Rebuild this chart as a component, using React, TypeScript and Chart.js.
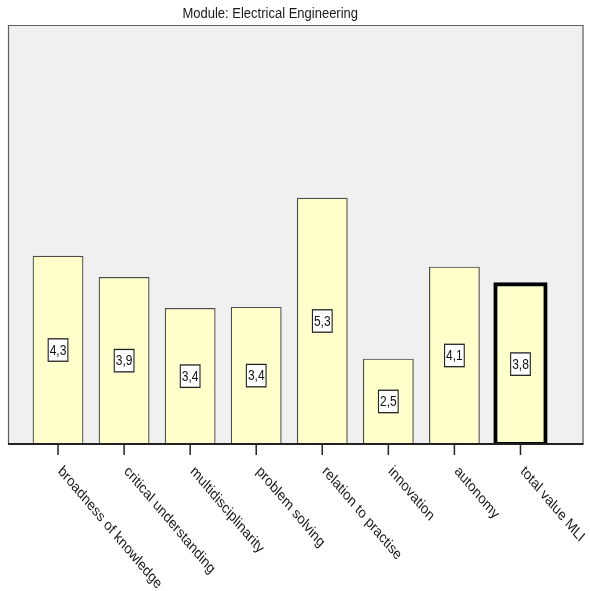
import { useEffect, useRef } from "react";
import { Chart, registerables } from "chart.js";

Chart.register(...registerables);

const TITLE = "Module: Electrical Engineering";
const categories = [
  "broadness of knowledge",
  "critical understanding",
  "multidisciplinarity",
  "problem solving",
  "relation to practise",
  "innovation",
  "autonomy",
  "total value MLI",
];
const values = [4.27, 3.9, 3.36, 3.38, 5.28, 2.48, 4.08, 3.78];
const borderWidths = [1.2, 1.2, 1.2, 1.2, 1.2, 1.2, 1.2, 4];
const inflate = [0.3, 0.3, 0.3, 0.3, 0.3, 0.3, 0.3, 2];
const borderColors = ["#4a4a4a", "#4a4a4a", "#4a4a4a", "#4a4a4a", "#4a4a4a", "#4a4a4a", "#4a4a4a", "#000000"];

const SY = 1.18; // vertical stretch of the original picture's text
const FONT = "Arial, 'Liberation Sans', sans-serif";

function fmt(v: number) {
  return v.toFixed(1).replace(".", ",");
}

const decor = {
  id: "decor",
  beforeDraw(chart: any) {
    const { ctx, chartArea: ca } = chart;
    const L = ca.left - 17;
    const R = ca.right + 30;
    ctx.save();
    ctx.fillStyle = "#f0f0f0";
    ctx.fillRect(L, ca.top, R - L, ca.bottom - ca.top);
    ctx.strokeStyle = "#5e5e5e";
    ctx.lineWidth = 1.2;
    ctx.beginPath();
    ctx.moveTo(L + 0.5, ca.bottom);
    ctx.lineTo(L + 0.5, ca.top + 0.5);
    ctx.lineTo(R - 0.5, ca.top + 0.5);
    ctx.lineTo(R - 0.5, ca.bottom);
    ctx.stroke();
    ctx.restore();
  },
  afterDatasetsDraw(chart: any) {
    const { ctx, chartArea: ca } = chart;
    const L = ca.left - 17;
    const R = ca.right + 30;
    const xs = chart.scales.x;
    const base = chart.scales.y.getPixelForValue(chart.scales.y.min);
    ctx.save();
    // baseline
    ctx.strokeStyle = "#222";
    ctx.lineWidth = 2;
    ctx.beginPath();
    ctx.moveTo(L, ca.bottom);
    ctx.lineTo(R, ca.bottom);
    ctx.stroke();
    // ticks + labels
    ctx.lineWidth = 1.5;
    ctx.fillStyle = "#1a1a1a";
    ctx.font = `13px ${FONT}`;
    categories.forEach((c, i) => {
      const x = xs.getPixelForValue(i);
      ctx.beginPath();
      ctx.moveTo(x, ca.bottom);
      ctx.lineTo(x, ca.bottom + 11);
      ctx.stroke();
      ctx.save();
      ctx.translate(x + 2, ca.bottom + 25);
      ctx.scale(1, SY);
      ctx.rotate(Math.PI / 4);
      ctx.textAlign = "left";
      ctx.textBaseline = "middle";
      ctx.fillText(c, 0, 0);
      ctx.restore();
    });
    // value boxes
    const meta = chart.getDatasetMeta(0);
    ctx.font = `12px ${FONT}`;
    meta.data.forEach((bar: any, i: number) => {
      const cx = bar.x;
      const cy = (bar.y + base) / 2;
      const t = fmt(values[i]);
      const w = ctx.measureText(t).width + 3;
      const h = 19;
      ctx.save();
      ctx.translate(cx, cy);
      ctx.scale(1, SY);
      ctx.fillStyle = "#ffffff";
      ctx.fillRect(-w / 2, -h / 2, w, h);
      ctx.strokeStyle = "#222";
      ctx.lineWidth = 1.1;
      ctx.strokeRect(-w / 2, -h / 2, w, h);
      ctx.fillStyle = "#111";
      ctx.textAlign = "center";
      ctx.textBaseline = "middle";
      ctx.fillText(t, 0, 0.5);
      ctx.restore();
    });
    // title
    ctx.save();
    ctx.font = `13px ${FONT}`;
    ctx.fillStyle = "#1a1a1a";
    ctx.translate((ca.left + ca.right) / 2 - 19, 14);
    ctx.scale(1, SY);
    ctx.textAlign = "center";
    ctx.textBaseline = "middle";
    ctx.fillText(TITLE, 0, 0);
    ctx.restore();
    ctx.restore();
  },
};

export default function App() {
  const ref = useRef<HTMLCanvasElement>(null);
  useEffect(() => {
    document.body.style.margin = "0";
    const chart = new Chart(ref.current!, {
      type: "bar",
      data: {
        labels: categories,
        datasets: [
          {
            data: values,
            base: 1,
            backgroundColor: "#ffffcc",
            borderColor: borderColors,
            borderWidth: borderWidths,
            inflateAmount: inflate,
            borderSkipped: false,
            barPercentage: 0.76,
            categoryPercentage: 1,
          } as any,
        ],
      },
      options: {
        responsive: false,
        animation: false,
        layout: { padding: { left: 25, right: 36.5, top: 25, bottom: 147 } },
        plugins: {
          legend: { display: false },
          title: { display: false },
          tooltip: { enabled: false },
        },
        scales: {
          x: { display: false },
          y: { display: false, min: 1, max: 8.29 },
        },
      },
      plugins: [decor],
    });
    return () => chart.destroy();
  }, []);
  return (
    <div style={{ width: 590, height: 591, background: "#fff" }}>
      <canvas ref={ref} width={590} height={591} />
    </div>
  );
}
